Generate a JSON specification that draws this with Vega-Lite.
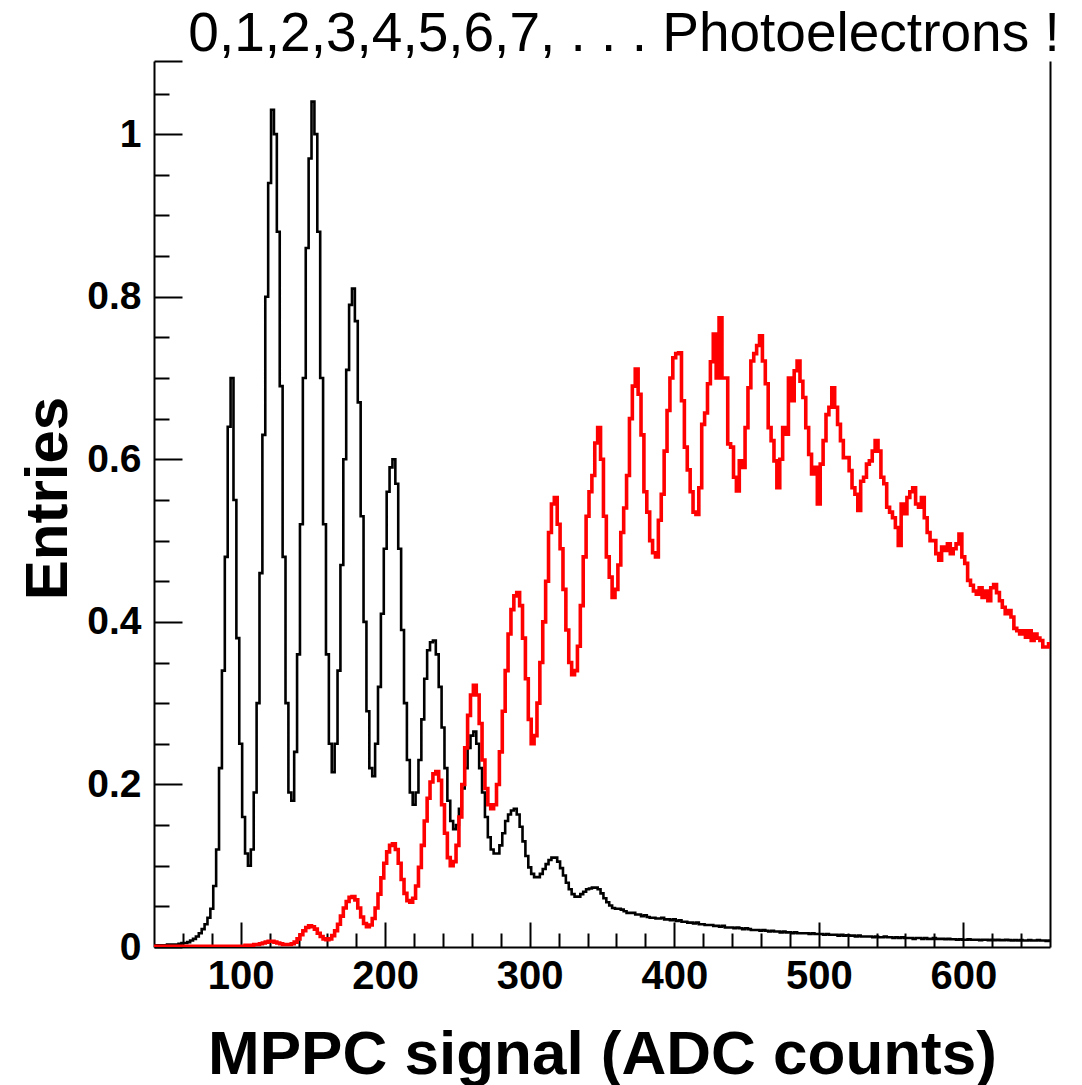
{
"$schema": "https://vega.github.io/schema/vega-lite/v6.json",
"width": 896, "height": 886,
"autosize": "none",
"padding": {"left": 154, "top": 61, "right": 32, "bottom": 138},
"background": "white",
"config": {"view": {"stroke": null}, "font": "Liberation Sans"},
"title": {"text": "0,1,2,3,4,5,6,7, . . . Photoelectrons !", "fontSize": 55, "fontWeight": "normal", "font": "Liberation Sans", "anchor": "middle", "dx": 22, "offset": -64, "baseline": "alphabetic", "color": "black"},
"data": {"values": [
{"x":40,"b":0.002,"r":0.001},{"x":42,"b":0.002,"r":0.001},{"x":44,"b":0.002,"r":0.001},{"x":46,"b":0.002,"r":0.001},{"x":48,"b":0.002,"r":0.001},
{"x":50,"b":0.003,"r":0.001},{"x":52,"b":0.003,"r":0.001},{"x":54,"b":0.003,"r":0.001},{"x":56,"b":0.003,"r":0.001},{"x":58,"b":0.004,"r":0.001},
{"x":60,"b":0.005,"r":0.001},{"x":62,"b":0.005,"r":0.001},{"x":64,"b":0.006,"r":0.001},{"x":66,"b":0.008,"r":0.001},{"x":68,"b":0.010,"r":0.001},
{"x":70,"b":0.013,"r":0.001},{"x":72,"b":0.017,"r":0.001},{"x":74,"b":0.022,"r":0.001},{"x":76,"b":0.028,"r":0.001},{"x":78,"b":0.036,"r":0.001},
{"x":80,"b":0.047,"r":0.001},{"x":82,"b":0.075,"r":0.001},{"x":84,"b":0.12,"r":0.001},{"x":86,"b":0.22,"r":0.001},{"x":88,"b":0.34,"r":0.001},
{"x":90,"b":0.48,"r":0.001},{"x":92,"b":0.64,"r":0.001},{"x":94,"b":0.70,"r":0.001},{"x":96,"b":0.55,"r":0.001},{"x":98,"b":0.38,"r":0.001},
{"x":100,"b":0.25,"r":0.001},{"x":102,"b":0.16,"r":0.001},{"x":104,"b":0.115,"r":0.002},{"x":106,"b":0.10,"r":0.002},{"x":108,"b":0.12,"r":0.002},
{"x":110,"b":0.19,"r":0.003},{"x":112,"b":0.30,"r":0.003},{"x":114,"b":0.46,"r":0.004},{"x":116,"b":0.63,"r":0.005},{"x":118,"b":0.80,"r":0.006},
{"x":120,"b":0.94,"r":0.007},{"x":122,"b":1.03,"r":0.007},{"x":124,"b":1.00,"r":0.006},{"x":126,"b":0.88,"r":0.005},{"x":128,"b":0.69,"r":0.004},
{"x":130,"b":0.48,"r":0.003},{"x":132,"b":0.30,"r":0.003},{"x":134,"b":0.19,"r":0.003},{"x":136,"b":0.18,"r":0.004},{"x":138,"b":0.24,"r":0.006},
{"x":140,"b":0.36,"r":0.010},{"x":142,"b":0.52,"r":0.015},{"x":144,"b":0.70,"r":0.020},{"x":146,"b":0.86,"r":0.024},{"x":148,"b":0.97,"r":0.026},
{"x":150,"b":1.04,"r":0.025},{"x":152,"b":1.00,"r":0.022},{"x":154,"b":0.88,"r":0.017},{"x":156,"b":0.70,"r":0.013},{"x":158,"b":0.52,"r":0.010},
{"x":160,"b":0.36,"r":0.009},{"x":162,"b":0.25,"r":0.010},{"x":164,"b":0.215,"r":0.014},{"x":166,"b":0.25,"r":0.020},{"x":168,"b":0.34,"r":0.028},
{"x":170,"b":0.47,"r":0.038},{"x":172,"b":0.60,"r":0.048},{"x":174,"b":0.71,"r":0.056},{"x":176,"b":0.79,"r":0.061},{"x":178,"b":0.81,"r":0.062},
{"x":180,"b":0.77,"r":0.058},{"x":182,"b":0.67,"r":0.048},{"x":184,"b":0.53,"r":0.037},{"x":186,"b":0.40,"r":0.029},{"x":188,"b":0.29,"r":0.025},
{"x":190,"b":0.22,"r":0.027},{"x":192,"b":0.21,"r":0.035},{"x":194,"b":0.25,"r":0.048},{"x":196,"b":0.32,"r":0.065},{"x":198,"b":0.41,"r":0.085},
{"x":200,"b":0.49,"r":0.103},{"x":202,"b":0.56,"r":0.117},{"x":204,"b":0.59,"r":0.125},{"x":206,"b":0.60,"r":0.127},{"x":208,"b":0.57,"r":0.12},
{"x":210,"b":0.49,"r":0.103},{"x":212,"b":0.39,"r":0.083},{"x":214,"b":0.30,"r":0.066},{"x":216,"b":0.23,"r":0.057},{"x":218,"b":0.19,"r":0.055},
{"x":220,"b":0.175,"r":0.06},{"x":222,"b":0.19,"r":0.075},{"x":224,"b":0.23,"r":0.098},{"x":226,"b":0.28,"r":0.125},{"x":228,"b":0.33,"r":0.155},
{"x":230,"b":0.365,"r":0.183},{"x":232,"b":0.375,"r":0.203},{"x":234,"b":0.377,"r":0.213},{"x":236,"b":0.36,"r":0.216},{"x":238,"b":0.32,"r":0.205},
{"x":240,"b":0.27,"r":0.175},{"x":242,"b":0.22,"r":0.14},{"x":244,"b":0.18,"r":0.11},{"x":246,"b":0.155,"r":0.10},{"x":248,"b":0.145,"r":0.105},
{"x":250,"b":0.15,"r":0.125},{"x":252,"b":0.17,"r":0.16},{"x":254,"b":0.195,"r":0.2},{"x":256,"b":0.22,"r":0.245},{"x":258,"b":0.245,"r":0.285},
{"x":260,"b":0.26,"r":0.31},{"x":262,"b":0.265,"r":0.322},{"x":264,"b":0.25,"r":0.31},{"x":266,"b":0.22,"r":0.275},{"x":268,"b":0.19,"r":0.23},
{"x":270,"b":0.16,"r":0.195},{"x":272,"b":0.135,"r":0.175},{"x":274,"b":0.12,"r":0.17},{"x":276,"b":0.115,"r":0.175},{"x":278,"b":0.115,"r":0.2},
{"x":280,"b":0.125,"r":0.24},{"x":282,"b":0.14,"r":0.29},{"x":284,"b":0.155,"r":0.34},{"x":286,"b":0.163,"r":0.385},{"x":288,"b":0.168,"r":0.415},
{"x":290,"b":0.17,"r":0.432},{"x":292,"b":0.163,"r":0.436},{"x":294,"b":0.148,"r":0.42},{"x":296,"b":0.13,"r":0.38},{"x":298,"b":0.112,"r":0.33},
{"x":300,"b":0.098,"r":0.28},{"x":302,"b":0.09,"r":0.25},{"x":304,"b":0.086,"r":0.26},{"x":306,"b":0.086,"r":0.30},{"x":308,"b":0.09,"r":0.35},
{"x":310,"b":0.096,"r":0.40},{"x":312,"b":0.102,"r":0.45},{"x":314,"b":0.107,"r":0.51},{"x":316,"b":0.11,"r":0.545},{"x":318,"b":0.11,"r":0.553},
{"x":320,"b":0.105,"r":0.52},{"x":322,"b":0.097,"r":0.49},{"x":324,"b":0.088,"r":0.44},{"x":326,"b":0.079,"r":0.39},{"x":328,"b":0.071,"r":0.35},
{"x":330,"b":0.065,"r":0.335},{"x":332,"b":0.062,"r":0.34},{"x":334,"b":0.062,"r":0.37},{"x":336,"b":0.065,"r":0.42},{"x":338,"b":0.068,"r":0.48},
{"x":340,"b":0.071,"r":0.53},{"x":342,"b":0.072,"r":0.56},{"x":344,"b":0.073,"r":0.58},{"x":346,"b":0.073,"r":0.62},{"x":348,"b":0.071,"r":0.639},
{"x":350,"b":0.066,"r":0.60},{"x":352,"b":0.06,"r":0.53},{"x":354,"b":0.055,"r":0.48},{"x":356,"b":0.051,"r":0.455},{"x":358,"b":0.048,"r":0.43},
{"x":360,"b":0.047,"r":0.44},{"x":362,"b":0.047,"r":0.47},{"x":364,"b":0.046,"r":0.51},{"x":366,"b":0.044,"r":0.54},{"x":368,"b":0.042,"r":0.58},
{"x":370,"b":0.042,"r":0.65},{"x":372,"b":0.042,"r":0.69},{"x":374,"b":0.040,"r":0.711},{"x":376,"b":0.040,"r":0.68},{"x":378,"b":0.038,"r":0.63},
{"x":380,"b":0.039,"r":0.56},{"x":382,"b":0.037,"r":0.535},{"x":384,"b":0.036,"r":0.50},{"x":386,"b":0.036,"r":0.485},{"x":388,"b":0.035,"r":0.48},
{"x":390,"b":0.035,"r":0.525},{"x":392,"b":0.036,"r":0.557},{"x":394,"b":0.034,"r":0.61},{"x":396,"b":0.034,"r":0.66},{"x":398,"b":0.033,"r":0.70},
{"x":400,"b":0.034,"r":0.725},{"x":402,"b":0.032,"r":0.73},{"x":404,"b":0.033,"r":0.731},{"x":406,"b":0.031,"r":0.672},{"x":408,"b":0.031,"r":0.615},
{"x":410,"b":0.030,"r":0.587},{"x":412,"b":0.030,"r":0.56},{"x":414,"b":0.029,"r":0.535},{"x":416,"b":0.030,"r":0.532},{"x":418,"b":0.028,"r":0.565},
{"x":420,"b":0.028,"r":0.643},{"x":422,"b":0.027,"r":0.657},{"x":424,"b":0.027,"r":0.693},{"x":426,"b":0.027,"r":0.72},{"x":428,"b":0.026,"r":0.754},
{"x":430,"b":0.026,"r":0.70},{"x":432,"b":0.025,"r":0.774},{"x":434,"b":0.026,"r":0.70},{"x":436,"b":0.024,"r":0.70},{"x":438,"b":0.024,"r":0.619},
{"x":440,"b":0.024,"r":0.615},{"x":442,"b":0.023,"r":0.578},{"x":444,"b":0.024,"r":0.561},{"x":446,"b":0.023,"r":0.598},{"x":448,"b":0.022,"r":0.59},
{"x":450,"b":0.023,"r":0.639},{"x":452,"b":0.022,"r":0.688},{"x":454,"b":0.021,"r":0.721},{"x":456,"b":0.021,"r":0.73},{"x":458,"b":0.021,"r":0.74},
{"x":460,"b":0.020,"r":0.752},{"x":462,"b":0.021,"r":0.721},{"x":464,"b":0.020,"r":0.693},{"x":466,"b":0.019,"r":0.639},{"x":468,"b":0.020,"r":0.623},
{"x":470,"b":0.019,"r":0.598},{"x":472,"b":0.019,"r":0.565},{"x":474,"b":0.018,"r":0.60},{"x":476,"b":0.019,"r":0.639},{"x":478,"b":0.018,"r":0.631},
{"x":480,"b":0.018,"r":0.70},{"x":482,"b":0.017,"r":0.672},{"x":484,"b":0.018,"r":0.709},{"x":486,"b":0.017,"r":0.721},{"x":488,"b":0.017,"r":0.696},
{"x":490,"b":0.017,"r":0.676},{"x":492,"b":0.017,"r":0.639},{"x":494,"b":0.016,"r":0.606},{"x":496,"b":0.017,"r":0.582},{"x":498,"b":0.016,"r":0.59},
{"x":500,"b":0.016,"r":0.545},{"x":502,"b":0.016,"r":0.594},{"x":504,"b":0.015,"r":0.623},{"x":506,"b":0.016,"r":0.655},{"x":508,"b":0.015,"r":0.664},
{"x":510,"b":0.015,"r":0.688},{"x":512,"b":0.015,"r":0.664},{"x":514,"b":0.014,"r":0.643},{"x":516,"b":0.015,"r":0.623},{"x":518,"b":0.014,"r":0.602},
{"x":520,"b":0.0145,"r":0.602},{"x":522,"b":0.014,"r":0.586},{"x":524,"b":0.014,"r":0.565},{"x":526,"b":0.013,"r":0.557},{"x":528,"b":0.014,"r":0.537},
{"x":530,"b":0.013,"r":0.573},{"x":532,"b":0.013,"r":0.578},{"x":534,"b":0.013,"r":0.594},{"x":536,"b":0.013,"r":0.598},{"x":538,"b":0.012,"r":0.61},
{"x":540,"b":0.013,"r":0.623},{"x":542,"b":0.012,"r":0.61},{"x":544,"b":0.012,"r":0.578},{"x":546,"b":0.013,"r":0.57},{"x":548,"b":0.012,"r":0.541},
{"x":550,"b":0.012,"r":0.535},{"x":552,"b":0.011,"r":0.528},{"x":554,"b":0.012,"r":0.516},{"x":556,"b":0.011,"r":0.494},{"x":558,"b":0.012,"r":0.545},
{"x":560,"b":0.011,"r":0.533},{"x":562,"b":0.011,"r":0.553},{"x":564,"b":0.011,"r":0.56},{"x":566,"b":0.010,"r":0.565},{"x":568,"b":0.011,"r":0.545},
{"x":570,"b":0.011,"r":0.541},{"x":572,"b":0.010,"r":0.553},{"x":574,"b":0.011,"r":0.528},{"x":576,"b":0.010,"r":0.51},{"x":578,"b":0.010,"r":0.50},
{"x":580,"b":0.011,"r":0.50},{"x":582,"b":0.010,"r":0.484},{"x":584,"b":0.010,"r":0.476},{"x":586,"b":0.010,"r":0.492},{"x":588,"b":0.0095,"r":0.488},
{"x":590,"b":0.010,"r":0.496},{"x":592,"b":0.0095,"r":0.484},{"x":594,"b":0.0095,"r":0.49},{"x":596,"b":0.009,"r":0.496},{"x":598,"b":0.0095,"r":0.508},
{"x":600,"b":0.009,"r":0.48},{"x":602,"b":0.009,"r":0.472},{"x":604,"b":0.0095,"r":0.451},{"x":606,"b":0.009,"r":0.445},{"x":608,"b":0.009,"r":0.438},
{"x":610,"b":0.009,"r":0.434},{"x":612,"b":0.0085,"r":0.442},{"x":614,"b":0.009,"r":0.43},{"x":616,"b":0.009,"r":0.438},{"x":618,"b":0.0085,"r":0.426},
{"x":620,"b":0.009,"r":0.442},{"x":622,"b":0.0085,"r":0.446},{"x":624,"b":0.009,"r":0.436},{"x":626,"b":0.0085,"r":0.426},{"x":628,"b":0.0085,"r":0.418},
{"x":630,"b":0.009,"r":0.41},{"x":632,"b":0.0085,"r":0.414},{"x":634,"b":0.008,"r":0.406},{"x":636,"b":0.0085,"r":0.392},{"x":638,"b":0.008,"r":0.389},
{"x":640,"b":0.0085,"r":0.385},{"x":642,"b":0.008,"r":0.389},{"x":644,"b":0.008,"r":0.381},{"x":646,"b":0.0085,"r":0.389},{"x":648,"b":0.008,"r":0.377},
{"x":650,"b":0.008,"r":0.385},{"x":652,"b":0.0085,"r":0.38},{"x":654,"b":0.008,"r":0.377},{"x":656,"b":0.008,"r":0.369},{"x":658,"b":0.0075,"r":0.369},
{"x":660,"b":0.008,"r":0.373}
]},
"encoding": {
  "x": {"field": "x", "type": "quantitative", "scale": {"domain": [40, 660], "nice": false, "zero": false},
   "axis": {"orient": "bottom", "values": [60,80,100,120,140,160,180,200,220,240,260,280,300,320,340,360,380,400,420,440,460,480,500,520,540,560,580,600,620,640],
    "labelExpr": "datum.value % 100 == 0 ? format(datum.value, 'd') : ''",
    "tickSize": {"condition": {"test": "datum.value % 100 == 0", "value": -25}, "value": -14},
    "tickWidth": 2, "tickColor": "black", "domainColor": "black", "domainWidth": 2,
    "labelFont": "Liberation Sans", "labelFontSize": 40, "labelFontWeight": "bold", "labelColor": "black",
    "labelPadding": 34, "labelOverlap": false, "labelFlush": false, "labelBound": false,
    "title": "MPPC signal (ADC counts)", "titleFont": "Liberation Sans", "titleFontSize": 62, "titleFontWeight": "bold", "titleColor": "black",
    "titleX": 448, "titleY": 126, "titleBaseline": "alphabetic", "titleAlign": "center", "titleAnchor": null,
    "grid": false, "zindex": 0}}
},
"layer": [
{"mark": {"type": "line", "interpolate": "step", "color": "black", "strokeWidth": 2.6, "clip": true},
 "encoding": {
  "y": {"field": "b", "type": "quantitative", "scale": {"domain": [0, 1.09], "nice": false, "zero": false},
   "axis": {"orient": "left", "values": [0,0.05,0.1,0.15,0.2,0.25,0.3,0.35,0.4,0.45,0.5,0.55,0.6,0.65,0.7,0.75,0.8,0.85,0.9,0.95,1,1.05,1.09],
    "labelExpr": "abs(datum.value*5 - round(datum.value*5)) < 0.001 ? format(datum.value, '~g') : ''",
    "tickSize": {"condition": {"test": "abs(datum.value*5 - round(datum.value*5)) < 0.001 || datum.value > 1.08", "value": -28}, "value": -15},
    "tickWidth": 2, "tickColor": "black", "domainColor": "black", "domainWidth": 2,
    "labelFont": "Liberation Sans", "labelFontSize": 39, "labelFontWeight": "bold", "labelColor": "black",
    "labelPadding": 41, "labelOverlap": false, "labelFlush": false, "labelBound": false,
    "title": "Entries", "titleFont": "Liberation Sans", "titleFontSize": 60, "titleFontWeight": "bold", "titleColor": "black",
    "titleX": -88, "titleY": 437, "titleAngle": -90, "titleBaseline": "alphabetic", "titleAlign": "center", "titleAnchor": null,
    "grid": false, "zindex": 0}}
 }},
{"mark": {"type": "line", "interpolate": "step", "color": "#ff0000", "strokeWidth": 3.6, "clip": true},
 "encoding": {
  "y": {"field": "r", "type": "quantitative", "scale": {"domain": [0, 1.09], "nice": false, "zero": false},
   "axis": {"orient": "right", "ticks": false, "labels": false, "title": null, "domainColor": "black", "domainWidth": 2, "grid": false}}
 }}
],
"resolve": {"axis": {"y": "independent"}}
}
